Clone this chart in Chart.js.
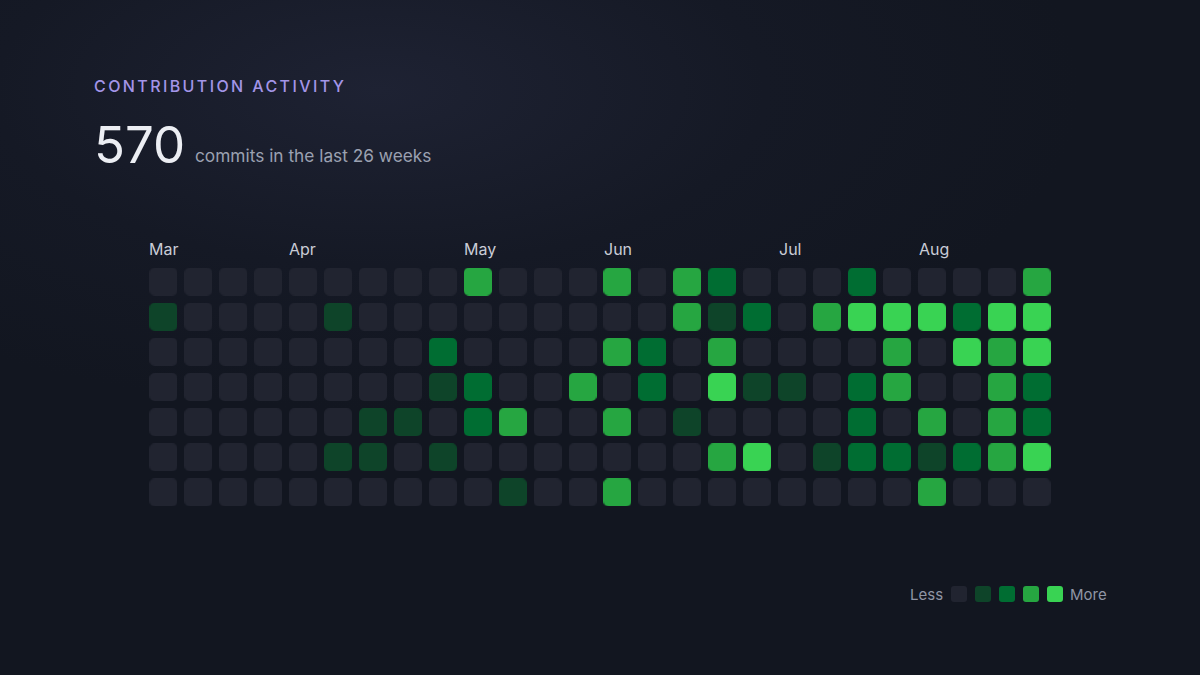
<!DOCTYPE html>
<html>
<head>
<meta charset="utf-8">
<script src="https://cdn.jsdelivr.net/npm/chart.js@4"></script>
<style>
  body { margin: 0; width: 1200px; height: 675px; overflow: hidden; font-family: Inter, "Noto Sans", sans-serif;
    background: radial-gradient(ellipse 700px 320px at 380px 90px, #1e2233 0%, #151925 55%, #121620 100%); }
  .kicker { position: absolute; left: 94px; top: 76px; color: #a395e8; font-size: 16px; letter-spacing: 2.4px; font-weight: 500; }
  .big { position: absolute; left: 94px; top: 114px; color: #eceef3; font-size: 51px; font-weight: 400; }
  .sub { position: absolute; left: 195px; top: 145px; color: #9ba1b1; font-size: 17.3px; }
  .month { position: absolute; top: 239px; color: #c9ccd6; font-size: 16px; }
  #wrap { position: absolute; left: 140.5px; top: 258.5px; width: 918px; height: 256px; }
  .legend { position: absolute; top: 585px; color: #8f95a5; font-size: 15px; }
  .sw { position: absolute; top: 586px; width: 16px; height: 16px; border-radius: 3px; }
</style>
</head>
<body>
<div class="kicker">CONTRIBUTION ACTIVITY</div>
<div class="big">570</div>
<div class="sub">commits in the last 26 weeks</div>
<div id="months"></div>
<div id="wrap"><canvas id="grid" width="918" height="256"></canvas></div>
<div id="legend"></div>
<script>
const WEEKS = 26;
const MONTHS = ["Mar", "Apr", "May", "Jun", "Jul", "Aug"];
const MONTH_COLS = [0, 4, 9, 13, 18, 22];
const LEVEL_COLORS = ["#212430", "#0e4429", "#006d32", "#26a641", "#39d353"];
// one row per weekday, one value per week (activity level 0-4)
const LEVELS = [
  [0,0,0,0,0,0,0,0,0,3,0,0,0,3,0,3,2,0,0,0,2,0,0,0,0,3],
  [1,0,0,0,0,1,0,0,0,0,0,0,0,0,0,3,1,2,0,3,4,4,4,2,4,4],
  [0,0,0,0,0,0,0,0,2,0,0,0,0,3,2,0,3,0,0,0,0,3,0,4,3,4],
  [0,0,0,0,0,0,0,0,1,2,0,0,3,0,2,0,4,1,1,0,2,3,0,0,3,2],
  [0,0,0,0,0,0,1,1,0,2,3,0,0,3,0,1,0,0,0,0,2,0,3,0,3,2],
  [0,0,0,0,0,1,1,0,1,0,0,0,0,0,0,0,3,4,0,1,2,2,1,2,3,4],
  [0,0,0,0,0,0,0,0,0,0,1,0,0,3,0,0,0,0,0,0,0,0,3,0,0,0]
];

// month labels
const monthsEl = document.getElementById("months");
MONTHS.forEach((m, i) => {
  const d = document.createElement("div");
  d.className = "month";
  d.style.left = (149 + MONTH_COLS[i] * 35) + "px";
  d.textContent = m;
  monthsEl.appendChild(d);
});

// legend
const legendEl = document.getElementById("legend");
legendEl.innerHTML = `<div class="legend" style="left:910px">Less</div><div class="legend" style="left:1070px">More</div>`;
LEVEL_COLORS.forEach((c, i) => {
  legendEl.innerHTML += `<div class="sw" style="left:${951 + i * 24}px;background:${c}"></div>`;
});

function cellImage(color) {
  const s = 28, r = 5;
  const dpr = window.devicePixelRatio || 1;
  const cv = document.createElement("canvas");
  cv.width = s * dpr; cv.height = s * dpr;
  const g = cv.getContext("2d");
  g.scale(dpr, dpr);
  g.fillStyle = color;
  g.beginPath();
  g.roundRect(0, 0, s, s, r);
  g.fill();
  const img = new Image(s, s);
  img.src = cv.toDataURL();
  return img;
}
const cellImages = LEVEL_COLORS.map(cellImage);

const points = [];
const styles = [];
LEVELS.forEach((row, r) => row.forEach((v, w) => {
  points.push({ x: w, y: r });
  styles.push(cellImages[v]);
}));

Promise.all(cellImages.map(im => im.decode())).then(() => {
  new Chart(document.getElementById("grid"), {
    type: "scatter",
    data: { datasets: [{ data: points, pointStyle: styles, clip: false }] },
    options: {
      responsive: false,
      animation: false,
      layout: { padding: 0 },
      plugins: { legend: { display: false }, tooltip: { enabled: false } },
      scales: {
        x: { display: false, min: -0.5, max: WEEKS - 0.5 },
        y: { display: false, min: -0.5, max: 6.5, reverse: true }
      }
    }
  });
});
</script>
</body>
</html>
